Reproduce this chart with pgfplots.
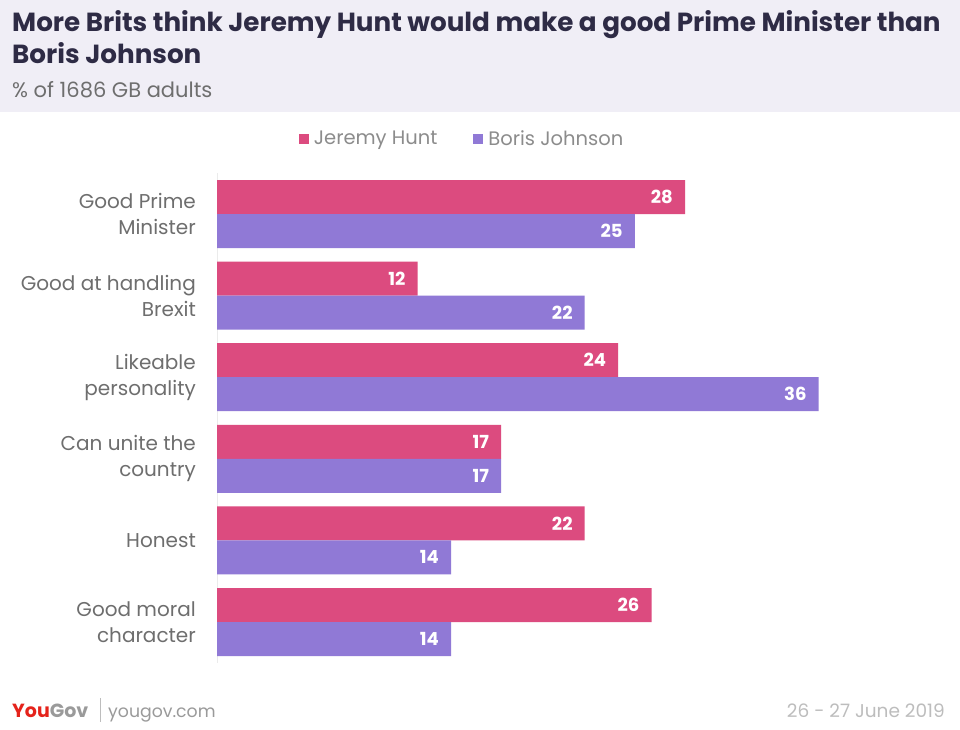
\documentclass[border=0pt]{standalone}
\usepackage{pgfplots}
\pgfplotsset{compat=1.18}
\usepackage{fontspec}
\setmainfont{Poppins}
\definecolor{hunt}{HTML}{DC4B7F}
\definecolor{boris}{HTML}{9079D6}
\definecolor{titlebg}{HTML}{F0EEF6}
\definecolor{titlefg}{HTML}{2E2B45}
\definecolor{labelgray}{HTML}{6E6E6E}
\definecolor{legendgray}{HTML}{8C8C8C}
\definecolor{footgray}{HTML}{BDBDBD}
\definecolor{urlgray}{HTML}{9A9A9A}
\definecolor{ygred}{HTML}{E5231B}
\begin{document}
\begin{tikzpicture}
\fill[white] (0,0) rectangle (960pt,-729pt);
\fill[titlebg] (0,0) rectangle (960pt,-112pt);
\node[anchor=base west, inner sep=0pt, font=\fontsize{26.2}{32}\selectfont\bfseries, text=titlefg] at (12pt,-31pt) {More Brits think Jeremy Hunt would make a good Prime Minister than};
\node[anchor=base west, inner sep=0pt, font=\fontsize{26.2}{32}\selectfont\bfseries, text=titlefg] at (12pt,-63pt) {Boris Johnson};
\node[anchor=base west, inner sep=0pt, font=\fontsize{21}{22}\selectfont, text=labelgray] at (12pt,-97pt) {\% of 1686 GB adults};
\begin{axis}[
  at={(217pt,-662.8pt)}, anchor=south west,
  scale only axis, width=668.6pt, height=489.6pt,
  xmin=0, xmax=40, ymin=-0.5, ymax=5.5, y dir=reverse,
  xbar, bar width=0.4167,
  axis x line=none,
  axis y line*=left,
  y axis line style={draw=black!8, line width=1pt},
  ytick={0,...,5},
  yticklabels={{Good Prime\\Minister},{Good at handling\\Brexit},{Likeable\\personality},{Can unite the\\country},{Honest},{Good moral\\character}},
  major tick length=0pt,
  yticklabel style={align=right, font=\fontsize{20}{26}\selectfont, text=labelgray, inner sep=0pt, xshift=-21pt},
  /pgf/number format/assume math mode=true,
  nodes near coords,
  nodes near coords style={anchor=east, inner sep=0pt, xshift=-12pt, text=white, font=\bfseries\fontsize{18}{18}\selectfont},
  legend style={at={(0.3665,1.07)}, anchor=center, legend columns=2, draw=none, fill=none, font=\fontsize{19.5}{19.5}\selectfont, text=legendgray, /tikz/every even column/.append style={column sep=34pt}},
  legend image code/.code={\fill[#1] (0pt,-5pt) rectangle (10pt,5pt);\path (13pt,0pt);},
  clip=false,
]
\addplot[fill=hunt, draw=none, bar shift=-0.2083] coordinates {(28,0) (12,1) (24,2) (17,3) (22,4) (26,5)};
\addplot[fill=boris, draw=none, bar shift=0.2083] coordinates {(25,0) (22,1) (36,2) (17,3) (14,4) (14,5)};
\legend{Jeremy Hunt, Boris Johnson}
\end{axis}
\node[anchor=base west, inner sep=0pt, font=\bfseries\fontsize{19}{19}\selectfont] at (12pt,-717pt) {\textcolor{ygred}{You}\textcolor{urlgray}{Gov}};
\draw[footgray, line width=0.8pt] (100pt,-698pt) -- (100pt,-722pt);
\node[anchor=base west, inner sep=0pt, font=\fontsize{17.3}{18}\selectfont, text=urlgray] at (108pt,-717pt) {yougov.com};
\node[anchor=base east, inner sep=0pt, font=\fontsize{18.5}{18}\selectfont, text=footgray] at (945pt,-717pt) {26 - 27 June 2019};
\pgfresetboundingbox
\path[use as bounding box] (0,0) rectangle (960pt,-729pt);
\end{tikzpicture}
\end{document}
